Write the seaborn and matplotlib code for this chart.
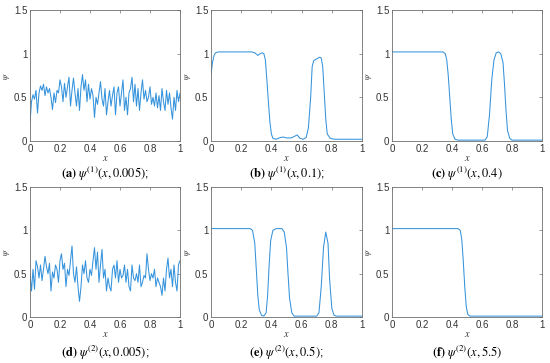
"""
psi profiles at several times - 2x3 panel figure
"""

import numpy as np
import pandas as pd
import matplotlib
matplotlib.use("Agg")
import matplotlib.pyplot as plt
from matplotlib.ticker import FormatStrFormatter
import seaborn as sns

# grid for the two noisy initial states
x_grid = np.linspace(0, 1, 101)

psi1_t0005 = [0.21, 0.45, 0.53, 0.48, 0.58, 0.32, 0.55, 0.63, 0.58, 0.65,
              0.52, 0.62, 0.55, 0.60, 0.50, 0.36, 0.55, 0.44, 0.58, 0.55,
              0.70, 0.62, 0.45, 0.66, 0.50, 0.62, 0.73, 0.40, 0.58, 0.72,
              0.55, 0.40, 0.60, 0.35, 0.62, 0.76, 0.58, 0.70, 0.45, 0.65,
              0.48, 0.60, 0.52, 0.27, 0.50, 0.42, 0.55, 0.68, 0.48, 0.40,
              0.60, 0.30, 0.45, 0.58, 0.40, 0.52, 0.62, 0.30, 0.55, 0.62,
              0.40, 0.55, 0.70, 0.35, 0.50, 0.30, 0.55, 0.60, 0.73, 0.45,
              0.65, 0.40, 0.60, 0.35, 0.55, 0.70, 0.48, 0.58, 0.45, 0.50,
              0.62, 0.42, 0.50, 0.40, 0.55, 0.38, 0.52, 0.35, 0.60, 0.45,
              0.35, 0.58, 0.42, 0.55, 0.38, 0.25, 0.50, 0.35, 0.58, 0.45,
              0.55]

psi2_t0005 = [0.50, 0.30, 0.55, 0.32, 0.65, 0.58, 0.45, 0.60, 0.42, 0.55,
              0.70, 0.58, 0.50, 0.62, 0.30, 0.52, 0.45, 0.60, 0.55, 0.40,
              0.65, 0.73, 0.55, 0.62, 0.35, 0.55, 0.48, 0.65, 0.82, 0.50,
              0.40, 0.58, 0.35, 0.18, 0.35, 0.60, 0.50, 0.65, 0.45, 0.40,
              0.55, 0.48, 0.65, 0.80, 0.55, 0.75, 0.40, 0.60, 0.78, 0.45,
              0.55, 0.30, 0.45, 0.35, 0.30, 0.55, 0.60, 0.45, 0.65, 0.40,
              0.55, 0.45, 0.48, 0.60, 0.40, 0.55, 0.35, 0.30, 0.60, 0.45,
              0.42, 0.50, 0.40, 0.60, 0.35, 0.40, 0.48, 0.45, 0.73, 0.55,
              0.42, 0.50, 0.45, 0.55, 0.35, 0.45, 0.40, 0.35, 0.25, 0.45,
              0.30, 0.55, 0.68, 0.45, 0.55, 0.35, 0.60, 0.40, 0.30, 0.60,
              0.65]

psi1_t01_x = [0.00, 0.01, 0.02, 0.03, 0.05, 0.10, 0.20, 0.27, 0.29, 0.31,
              0.325, 0.34, 0.35, 0.36, 0.37, 0.38, 0.39, 0.40, 0.41, 0.43,
              0.46, 0.48, 0.50, 0.53, 0.55, 0.57, 0.59, 0.61, 0.63, 0.645,
              0.66, 0.67, 0.68, 0.70, 0.72, 0.73, 0.74, 0.75, 0.76, 0.77,
              0.79, 0.82, 1.00]
psi1_t01_y = [0.76, 0.90, 0.98, 1.01, 1.02, 1.02, 1.02, 1.02, 1.01, 0.98,
              1.00, 1.01, 1.00, 0.93, 0.70, 0.45, 0.22, 0.08, 0.03, 0.02,
              0.04, 0.045, 0.035, 0.035, 0.05, 0.07, 0.03, 0.02, 0.04, 0.15,
              0.50, 0.85, 0.92, 0.94, 0.96, 0.95, 0.85, 0.55, 0.25, 0.08,
              0.03, 0.02, 0.02]

psi1_t04_x = [0.00, 0.34, 0.355, 0.365, 0.375, 0.385, 0.395, 0.405, 0.42, 0.44,
              0.62, 0.635, 0.65, 0.665, 0.68, 0.695, 0.71, 0.725, 0.74, 0.75,
              0.76, 0.77, 0.785, 0.80, 1.00]
psi1_t04_y = [1.02, 1.02, 1.00, 0.93, 0.75, 0.50, 0.25, 0.08, 0.02, 0.01,
              0.01, 0.05, 0.30, 0.70, 0.93, 1.01, 1.02, 1.00, 0.90, 0.65,
              0.35, 0.12, 0.03, 0.01, 0.01]

psi2_t05_x = [0.00, 0.26, 0.275, 0.29, 0.30, 0.31, 0.32, 0.335, 0.35, 0.365,
              0.375, 0.385, 0.395, 0.41, 0.43, 0.47, 0.485, 0.50, 0.51, 0.52,
              0.535, 0.55, 0.70, 0.715, 0.73, 0.745, 0.76, 0.775, 0.785, 0.80,
              0.815, 0.83, 1.00]
psi2_t05_y = [1.02, 1.02, 1.00, 0.85, 0.55, 0.25, 0.08, 0.02, 0.01, 0.05,
              0.25, 0.60, 0.88, 1.00, 1.02, 1.02, 0.98, 0.80, 0.50, 0.22,
              0.05, 0.01, 0.01, 0.05, 0.35, 0.80, 0.98, 0.85, 0.45, 0.10,
              0.02, 0.01, 0.01]

psi2_t55_x = [0.00, 0.44, 0.455, 0.465, 0.475, 0.485, 0.495, 0.505, 0.52, 1.00]
psi2_t55_y = [1.02, 1.02, 1.00, 0.90, 0.65, 0.35, 0.12, 0.03, 0.01, 0.01]

captions = [r"$\mathbf{(a)}\ \psi^{(1)}(x, 0.005)$;",
            r"$\mathbf{(b)}\ \psi^{(1)}(x, 0.1)$;",
            r"$\mathbf{(c)}\ \psi^{(1)}(x, 0.4)$",
            r"$\mathbf{(d)}\ \psi^{(2)}(x, 0.005)$;",
            r"$\mathbf{(e)}\ \psi^{(2)}(x, 0.5)$;",
            r"$\mathbf{(f)}\ \psi^{(2)}(x, 5.5)$"]

x_ticks = [0, 0.2, 0.4, 0.6, 0.8, 1]
y_ticks = [0, 0.5, 1, 1.5]

sns.set_style("white")
plt.rcParams["font.family"] = ["Liberation Sans", "DejaVu Sans"]
plt.rcParams["mathtext.fontset"] = "stix"

LINE = "#3593dc"
FRAME = "#6e6e6e"

panels = [
    (x_grid, psi1_t0005), (psi1_t01_x, psi1_t01_y), (psi1_t04_x, psi1_t04_y),
    (x_grid, psi2_t0005), (psi2_t05_x, psi2_t05_y), (psi2_t55_x, psi2_t55_y),
]

fig = plt.figure(figsize=(5.5, 3.63), dpi=100)

lefts = [30 / 550, 211 / 550, 392 / 550]
widths = [150 / 550, 151 / 550, 150 / 550]
row_tops = [10, 187]
row_bottoms = [141, 317]
caption_y = [174, 353]

for i, (xs, ys) in enumerate(panels):
    r, c = divmod(i, 3)
    bottom = 1 - row_bottoms[r] / 363
    height = (row_bottoms[r] - row_tops[r]) / 363
    ax = fig.add_axes([lefts[c], bottom, widths[c], height])
    df = pd.DataFrame({"x": xs, "psi": ys})
    sns.lineplot(data=df, x="x", y="psi", ax=ax, color=LINE, linewidth=0.75,
                 estimator=None, sort=False)
    ax.set_xlim(0, 1)
    ax.set_ylim(0, 1.5)
    ax.set_xticks(x_ticks)
    ax.set_yticks(y_ticks)
    ax.xaxis.set_major_formatter(FormatStrFormatter("%g"))
    ax.yaxis.set_major_formatter(FormatStrFormatter("%g"))
    ax.tick_params(direction="in", length=2.5, width=0.5, colors=FRAME,
                   labelcolor="#333333", labelsize=7, pad=2,
                   top=True, right=True)
    for s in ax.spines.values():
        s.set_color(FRAME)
        s.set_linewidth(0.6)
    ax.set_xlabel(r"$x$", fontsize=7.5, labelpad=-0.5, color="#333333")
    ax.set_ylabel(r"$\psi$", fontsize=6.5, labelpad=1, color="#333333")

    cx = lefts[c] + widths[c] / 2
    fig.text(cx, 1 - caption_y[r] / 363, captions[i], ha="center", va="center",
             fontsize=9, color="black")

fig.savefig("out.png", dpi=100)
